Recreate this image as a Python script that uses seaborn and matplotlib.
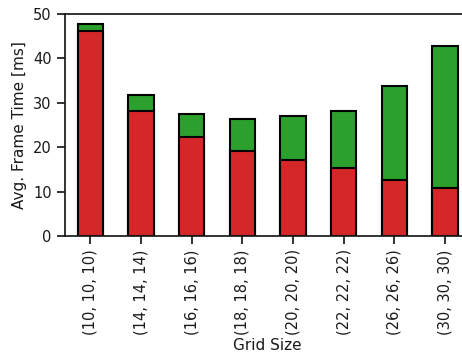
import matplotlib
matplotlib.use("Agg")
import matplotlib.pyplot as plt
import seaborn as sns
import pandas as pd

grid_sizes = ["(10, 10, 10)", "(14, 14, 14)", "(16, 16, 16)", "(18, 18, 18)",
              "(20, 20, 20)", "(22, 22, 22)", "(26, 26, 26)", "(30, 30, 30)"]
red_part = [46.2, 28.1, 22.4, 19.2, 17.1, 15.3, 12.6, 10.9]
green_part = [1.5, 3.7, 5.1, 7.2, 9.9, 12.9, 21.2, 31.9]

sns.set_style("ticks")
plt.rcParams["font.family"] = ["DejaVu Sans"]

df = pd.DataFrame({"grid": grid_sizes, "red": red_part, "green": green_part})
df["total"] = df["red"] + df["green"]

fig = plt.figure(figsize=(4.62, 3.58), dpi=100)
ax = fig.add_axes([65 / 462, 1 - 236 / 358, (470.5 - 65) / 462, (236 - 14) / 358])

sns.barplot(data=df, x="grid", y="total", color="#2ca02c", saturation=1,
            width=0.5, edgecolor="black", linewidth=1.5, ax=ax)
sns.barplot(data=df, x="grid", y="red", color="#d62728", saturation=1,
            width=0.5, edgecolor="black", linewidth=1.5, ax=ax)

ax.set_xlim(-0.5, 7.5)
ax.set_ylim(0, 50)
ax.set_yticks([0, 10, 20, 30, 40, 50])
ax.set_xlabel("Grid Size", fontsize=11, color="#1a1a1a", labelpad=2)
ax.set_ylabel("Avg. Frame Time [ms]", fontsize=11, color="#1a1a1a")
ax.tick_params(axis="x", labelrotation=90)
ax.tick_params(labelsize=10.5, length=6, width=1.25, colors="#1a1a1a")
for s in ax.spines.values():
    s.set_linewidth(1.25)
    s.set_color("#1a1a1a")

fig.savefig("out.png", dpi=100)
